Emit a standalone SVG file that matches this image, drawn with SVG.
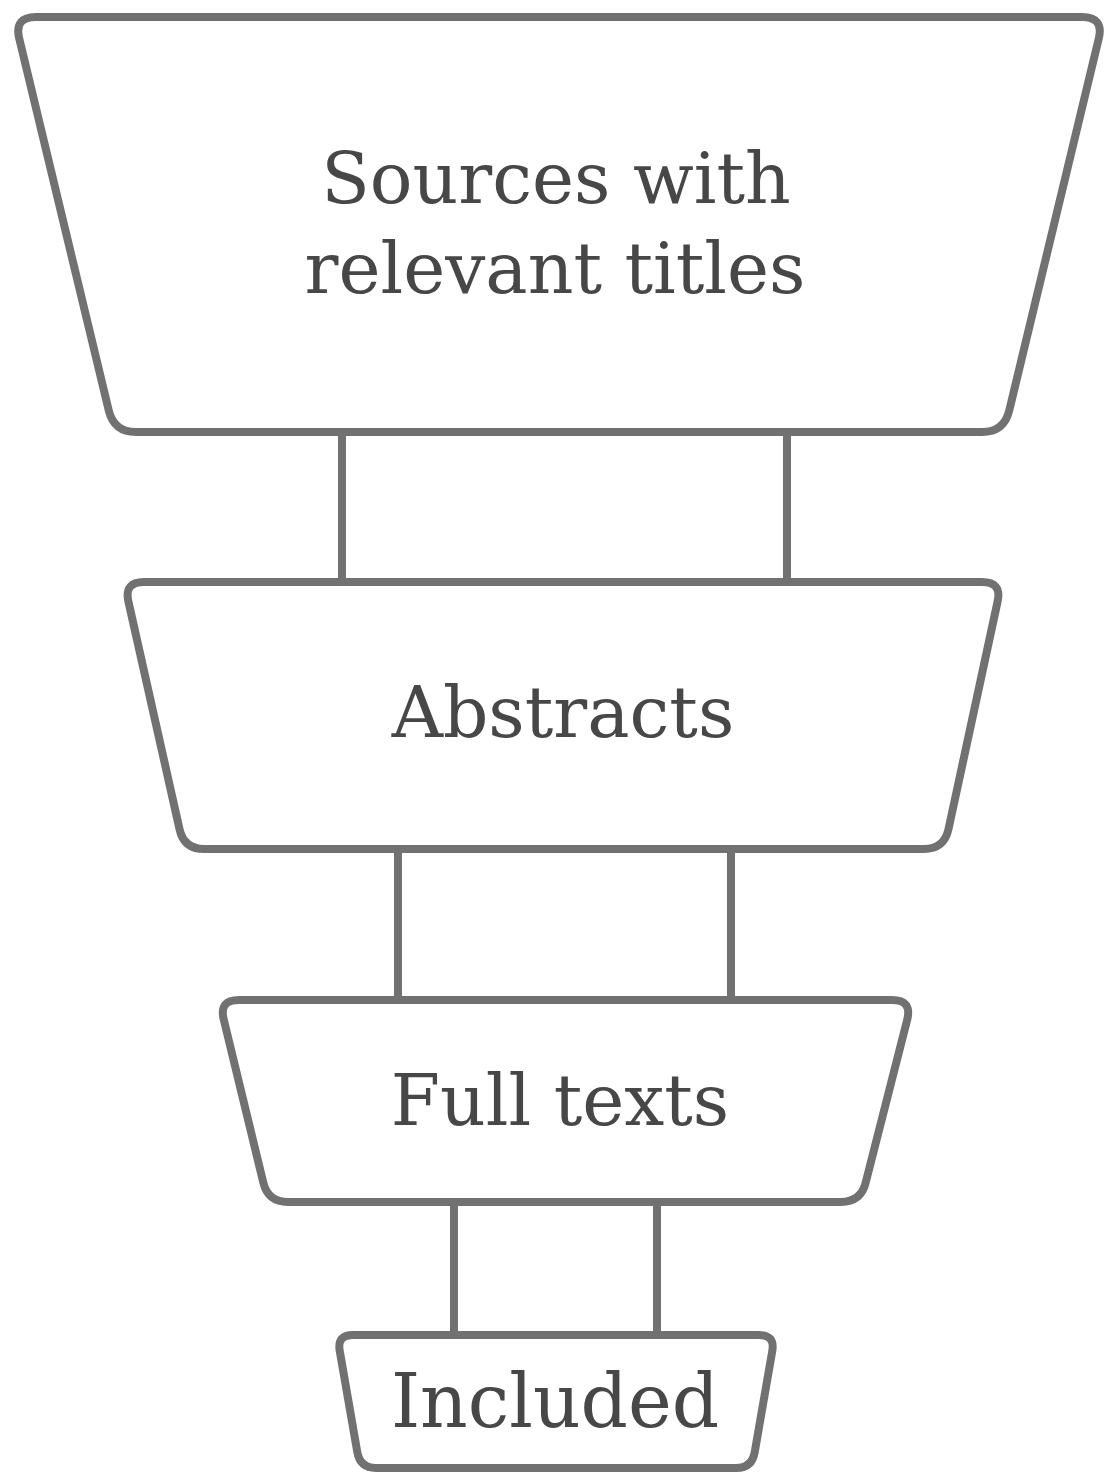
<svg xmlns="http://www.w3.org/2000/svg" width="1110" height="1473" viewBox="0 0 1110 1473">
<style>
.node{fill:#ffffff;stroke:#717171;stroke-width:8;stroke-linejoin:round}
.conn line{stroke:#717171;stroke-width:8}
.lbl{font-family:"DejaVu Serif","Liberation Serif",serif;font-size:71px;fill:#474747;text-anchor:middle}
</style>
<rect width="1110" height="1473" fill="#ffffff"/>
<g id="connectors" class="conn">
<line x1="342" y1="432" x2="342" y2="582"/>
<line x1="787" y1="432" x2="787" y2="582"/>
<line x1="398" y1="849" x2="398" y2="1000"/>
<line x1="731" y1="849" x2="731" y2="1000"/>
<line x1="454" y1="1202" x2="454" y2="1335"/>
<line x1="657" y1="1202" x2="657" y2="1335"/>
</g>
<g id="node-sources">
<path class="node" d="M36,17 L1082,17 Q1104,17 1098.8,38.4 L1009.2,410.6 Q1004,432 982,432 L136,432 Q114,432 108.8,410.6 L19.2,38.4 Q14,17 36,17 Z"/>
<text class="lbl" x="556" y="203">Sources with</text>
<text class="lbl" x="555" y="293">relevant titles</text>
</g>
<g id="node-abstracts">
<path class="node" d="M144,582 L982,582 Q1002,582 997.6,601.5 L948.4,829.5 Q944,849 924,849 L204,849 Q184,849 179.6,829.5 L128.4,601.5 Q124,582 144,582 Z"/>
<text class="lbl" x="563" y="737">Abstracts</text>
</g>
<g id="node-fulltexts">
<path class="node" d="M239,1000 L892,1000 Q912,1000 907.3,1019.4 L865.7,1182.6 Q861,1202 841,1202 L288,1202 Q268,1202 263.3,1182.6 L223.7,1019.4 Q219,1000 239,1000 Z"/>
<text class="lbl" x="560" y="1125">Full texts</text>
</g>
<g id="node-included">
<path class="node" d="M353,1335 L759,1335 Q775,1335 772.3,1350.8 L754.7,1452.2 Q752,1468 736,1468 L376,1468 Q360,1468 357.3,1452.2 L339.7,1350.8 Q337,1335 353,1335 Z"/>
<text class="lbl" x="555" y="1427" style="font-size:74px">Included</text>
</g>
</svg>
